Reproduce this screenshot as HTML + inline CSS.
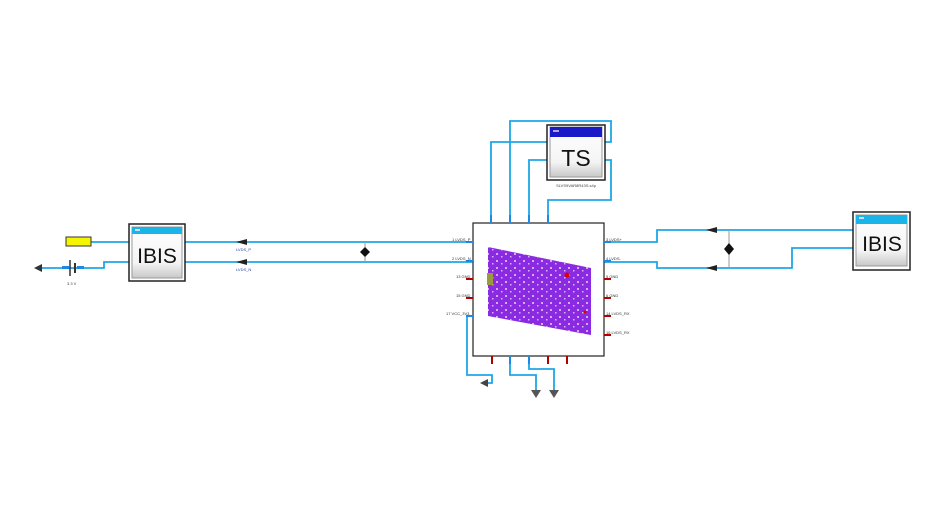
<!DOCTYPE html>
<html><head><style>html,body{margin:0;padding:0;background:#fff;}svg{display:block}</style></head>
<body>
<svg width="949" height="511" viewBox="0 0 949 511" xmlns="http://www.w3.org/2000/svg" font-family="Liberation Sans, sans-serif">
<defs>
<linearGradient id="g" x1="0" y1="0" x2="0" y2="1"><stop offset="0" stop-color="#fff"/><stop offset="0.7" stop-color="#f4f4f4"/><stop offset="1" stop-color="#c8c8c8"/></linearGradient>
<pattern id="dots" width="9" height="7" patternUnits="userSpaceOnUse"><circle cx="2" cy="2" r="1" fill="#fff"/><rect x="6" y="4" width="1.5" height="1.5" fill="#e8d8ff"/></pattern>
</defs>
<g stroke="#1ea7e6" stroke-width="1.8" fill="none">
<polyline points="91,242 129,242"/>
<polyline points="40,268 104,268 104,262 129,262"/>
<polyline points="185,242 473,242"/>
<polyline points="185,262 473,262"/>
<line x1="365" y1="242" x2="365" y2="262" stroke="#999" stroke-width="1"/>
<polyline points="491,216 491,142 547,142"/>
<polyline points="510,216 510,121 611,121 611,142 605,142"/>
<polyline points="529,216 529,160 547,160"/>
<polyline points="548,216 548,200 611,200 611,160 605,160"/>
<polyline points="467,316 467,375 492,375 492,383 486,383"/>
<polyline points="510,364 510,375 536,375 536,390"/>
<polyline points="529,364 529,369 554,369 554,390"/>
<polyline points="604,242 657,242 657,230 853,230"/>
<polyline points="604,262 657,262 657,268 792,268 792,248 853,248"/>
<line x1="729" y1="230" x2="729" y2="268" stroke="#999" stroke-width="1"/>
</g>
<rect x="66" y="237" width="25" height="9" fill="#f5f500" stroke="#333" stroke-width="1"/>
<line x1="70" y1="260" x2="70" y2="276" stroke="#333" stroke-width="1.5"/>
<line x1="75" y1="263" x2="75" y2="273" stroke="#333" stroke-width="2"/>
<rect x="62" y="266" width="7" height="3" fill="#1e88e5"/><rect x="77" y="266" width="7" height="3" fill="#1e88e5"/>
<polygon points="34,268 42,264 42,272" fill="#333"/>
<text x="67" y="285" font-size="4" fill="#444">3.3 V</text>
<rect x="129" y="224" width="56" height="57" fill="#fff" stroke="#222" stroke-width="1.5"/>
<rect x="132" y="227" width="50" height="51" fill="url(#g)" stroke="#999"/>
<rect x="132" y="227" width="50" height="7" fill="#19b5e8"/>
<rect x="135" y="229" width="5" height="2" fill="#cdf"/>
<text x="157" y="263" font-size="21" text-anchor="middle" fill="#111">IBIS</text>
<polygon points="236,242 247,239 247,245" fill="#222"/><polygon points="236,262 247,259 247,265" fill="#222"/>
<text x="236" y="251" font-size="4" fill="#1e3fa0">LVDS_P</text><text x="236" y="271" font-size="4" fill="#1e3fa0">LVDS_N</text>
<polygon points="365,247 360,252 365,257 370,252" fill="#111"/>
<polygon points="706,230 717,227 717,233" fill="#222"/><polygon points="706,268 717,265 717,271" fill="#222"/>
<polygon points="729,243 724,249 729,255 734,249" fill="#111"/>
<rect x="473" y="223" width="131" height="133" fill="#fff" stroke="#222" stroke-width="1.2"/>
<polygon points="488,247 591,268 591,335 488,316" fill="#8a2be2"/>
<polygon points="488,247 591,268 591,335 488,316" fill="url(#dots)" opacity="0.8"/>
<rect x="487" y="273" width="6" height="12" fill="#9a9a3a"/>
<circle cx="567" cy="275" r="2.5" fill="#d00"/><circle cx="585" cy="312" r="1.5" fill="#d00"/>
<g fill="#b00000">
<rect x="466" y="278" width="7" height="2"/><rect x="466" y="297" width="7" height="2"/>
<rect x="604" y="278" width="7" height="2"/><rect x="604" y="297" width="7" height="2"/><rect x="604" y="315" width="7" height="2"/><rect x="604" y="334" width="7" height="2"/>
<rect x="491" y="356" width="2" height="8"/><rect x="547" y="356" width="2" height="8"/><rect x="566" y="356" width="2" height="8"/>
</g>
<g fill="#1e88e5">
<rect x="466" y="241" width="7" height="2"/><rect x="466" y="260" width="7" height="2"/><rect x="466" y="315" width="7" height="2"/>
<rect x="604" y="241" width="7" height="2"/><rect x="604" y="260" width="7" height="2"/>
<rect x="490" y="215" width="2" height="8"/><rect x="509" y="215" width="2" height="8"/><rect x="528" y="215" width="2" height="8"/><rect x="547" y="215" width="2" height="8"/>
<rect x="509" y="356" width="2" height="8"/><rect x="528" y="356" width="2" height="8"/>
</g>
<g font-size="4" fill="#333">
<text x="452" y="241">1 LVDS_P</text><text x="452" y="260">2 LVDS_N</text><text x="456" y="278">13 GND</text><text x="456" y="297">15 GND</text><text x="446" y="315">17 VCC_3V3</text>
<text x="606" y="241">3 LVDS+</text><text x="606" y="260">4 LVDS-</text><text x="606" y="278">5 GND</text><text x="606" y="297">6 GND</text><text x="606" y="315">14 LVDS_RX</text><text x="606" y="334">16 LVDS_RX</text>
</g>
<polygon points="480,383 488,379 488,387" fill="#444"/>
<polygon points="531,390 541,390 536,398" fill="#555"/><polygon points="549,390 559,390 554,398" fill="#555"/>
<rect x="547" y="125" width="58" height="55" fill="#fff" stroke="#222" stroke-width="1.5"/>
<rect x="550" y="127" width="52" height="50" fill="url(#g)" stroke="#999"/>
<rect x="550" y="127" width="52" height="10" fill="#1a1ac8"/>
<rect x="553" y="130" width="6" height="2" fill="#aac"/>
<text x="576" y="166" font-size="23" text-anchor="middle" fill="#111">TS</text>
<text x="576" y="187" font-size="4" text-anchor="middle" fill="#444">SLVS9VAR8R43S.s4p</text>
<rect x="853" y="212" width="57" height="58" fill="#fff" stroke="#222" stroke-width="1.5"/>
<rect x="856" y="215" width="51" height="51" fill="url(#g)" stroke="#999"/>
<rect x="856" y="215" width="51" height="9" fill="#19b5e8"/>
<rect x="859" y="217" width="5" height="2" fill="#cdf"/>
<text x="882" y="251" font-size="21" text-anchor="middle" fill="#111">IBIS</text>
</svg>
</body></html>
